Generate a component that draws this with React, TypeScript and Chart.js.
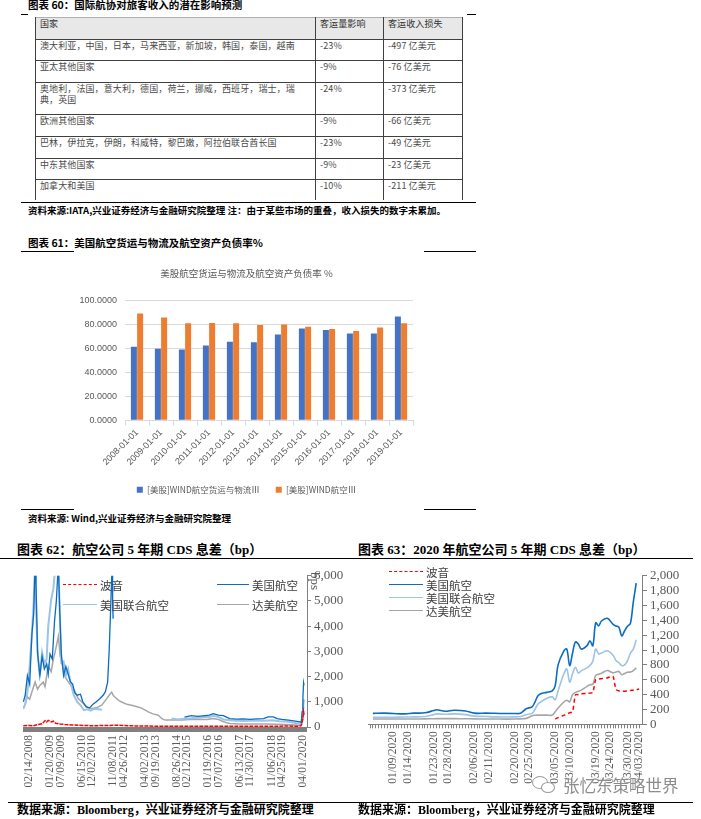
import React, { useEffect, useRef } from 'react';
import { Chart, registerables } from 'chart.js';

Chart.register(...registerables);

// ---------- Table (图表 60) ----------
const tableHeader = ['国家', '客运量影响', '客运收入损失'];
const tableRegions = [
  '澳大利亚，中国，日本，马来西亚，新加坡，韩国，泰国，越南',
  '亚太其他国家',
  '奥地利，法国，意大利，德国，荷兰，挪威，西班牙，瑞士，瑞典，英国',
  '欧洲其他国家',
  '巴林，伊拉克，伊朗，科威特，黎巴嫩，阿拉伯联合酋长国',
  '中东其他国家',
  '加拿大和美国',
];
const tableVolume = ['-23%', '-9%', '-24%', '-9%', '-23%', '-9%', '-10%'];
const tableRevenue = ['-497 亿美元', '-76 亿美元', '-373 亿美元', '-66 亿美元', '-49 亿美元', '-23 亿美元', '-211 亿美元'];

// ---------- Bar chart (图表 61) ----------
const debtTitle = '美股航空货运与物流及航空资产负债率 %';
const debtYears = ['2008-01-01', '2009-01-01', '2010-01-01', '2011-01-01', '2012-01-01', '2013-01-01', '2014-01-01', '2015-01-01', '2016-01-01', '2017-01-01', '2018-01-01', '2019-01-01'];
const debtLogisticsName = '[美股]WIND航空货运与物流Ⅲ';
const debtAirlineName = '[美股]WIND航空Ⅲ';
const debtLogistics = [61.7, 59.9, 59.3, 62.7, 65.7, 65.4, 71.9, 76.9, 75.6, 72.8, 72.8, 87.0];
const debtAirline = [89.5, 86.1, 81.2, 81.5, 81.2, 79.9, 80.2, 78.4, 76.5, 74.7, 77.8, 81.2];

// ---------- Long CDS chart (图表 62), x = decimal year ----------
const cdsSeriesNames = ['波音', '美国航空', '美国联合航空', '达美航空'];
const longTickYears = [2008.12, 2009.05, 2009.52, 2010.45, 2010.92, 2011.85, 2012.32, 2013.25, 2013.72, 2014.65, 2015.12, 2016.05, 2016.51, 2017.45, 2017.91, 2018.85, 2019.31, 2020.25];
const longTickLabels = ['02/14/2008', '01/20/2009', '07/09/2009', '06/15/2010', '12/02/2010', '11/08/2011', '04/26/2012', '04/02/2013', '09/19/2013', '08/26/2014', '02/12/2015', '01/19/2016', '07/07/2016', '06/13/2017', '11/30/2017', '11/06/2018', '04/25/2019', '04/01/2020'];

const boeingLongYears = [2007.87, 2008.1, 2008.3, 2008.5, 2008.7, 2008.83, 2008.9, 2008.97, 2009.1, 2009.2, 2009.3, 2009.5, 2009.7, 2010.0, 2010.5, 2011.0, 2011.5, 2012.0, 2012.5, 2013.0, 2014.0, 2015.0, 2016.0, 2017.0, 2018.0, 2019.0, 2019.5, 2020.0, 2020.15, 2020.2, 2020.24, 2020.27, 2020.29];
const boeingLongValues = [50, 60, 50, 90, 130, 250, 200, 260, 200, 230, 150, 120, 100, 80, 60, 50, 60, 70, 50, 40, 30, 30, 30, 25, 25, 30, 40, 30, 50, 150, 400, 600, 480];

const aalLongYears = [2007.87, 2007.95, 2008.05, 2008.15, 2008.25, 2008.33, 2008.39, 2008.43, 2008.5, 2008.6, 2008.7, 2008.8, 2008.9, 2008.97, 2009.05, 2009.15, 2009.25, 2009.33, 2009.42, 2009.48, 2009.55, 2009.65, 2009.75, 2009.85, 2009.95, 2010.05, 2010.15, 2010.25, 2010.4, 2010.5, 2010.65, 2010.8, 2010.95, 2011.1, 2011.25, 2011.4, 2011.5, 2011.6, 2011.67, 2011.72, 2011.77, 2011.8, 2011.82, 2011.84, 2011.9,
  2015.0, 2015.3, 2015.6, 2015.9, 2016.1, 2016.27, 2016.5, 2016.72, 2017.0, 2017.3, 2017.6, 2017.9, 2018.2, 2018.5, 2018.7, 2018.93, 2019.1, 2019.3, 2019.6, 2019.9, 2020.11, 2020.17, 2020.2, 2020.24, 2020.27, 2020.29];
const aalLongValues = [1000, 1250, 2040, 1700, 3700, 4500, 6500, 5700, 2950, 2040, 2800, 2300, 2500, 2100, 2900, 2700, 4200, 5000, 6500, 4600, 2900, 2040, 2400, 2100, 1800, 1700, 1350, 1260, 1300, 1000, 800, 760, 900, 1000, 1124, 1260, 1400, 1777, 3080, 4350, 5700, 6400, 5200, 4300, null,
  393, 450, 420, 450, 470, 530, 470, 450, 330, 310, 320, 300, 320, 330, 400, 400, 330, 300, 270, 230, 200, 180, 600, 1200, 1750, 1650];

const ualLongYears = [2007.87, 2007.95, 2008.05, 2008.15, 2008.25, 2008.33, 2008.39, 2008.45, 2008.5, 2008.6, 2008.7, 2008.8, 2008.9, 2008.97, 2009.1, 2009.2, 2009.3, 2009.4, 2009.45, 2009.55, 2009.65, 2009.75, 2009.85, 2009.95, 2010.1, 2010.25, 2010.4, 2010.55, 2010.7, 2010.85, 2011.0, 2011.2, 2011.35, 2011.4,
  2014.43, 2014.7, 2015.0, 2015.3, 2015.6, 2015.9, 2016.1, 2016.27, 2016.5, 2016.72, 2017.0, 2017.3, 2017.6, 2017.9, 2018.2, 2018.5, 2018.9, 2019.2, 2019.5, 2019.9, 2020.11, 2020.17, 2020.2, 2020.24, 2020.27, 2020.29];
const ualLongValues = [732, 900, 1385, 2430, 3740, 5000, 6500, 4270, 2950, 2040, 2950, 2500, 2700, 3990, 5040, 5500, 6500, 6500, 5500, 2560, 2600, 2040, 2300, 1800, 1260, 1000, 863, 667, 700, 650, 720, 700, 680, null,
  340, 300, 330, 350, 380, 400, 400, 444, 400, 300, 270, 250, 240, 250, 260, 250, 270, 230, 220, 160, 130, 120, 350, 700, 1000, 1100];

const dalLongYears = [2007.87, 2007.95, 2008.05, 2008.15, 2008.25, 2008.39, 2008.5, 2008.6, 2008.75, 2008.83, 2008.97, 2009.1, 2009.2, 2009.27, 2009.35, 2009.42, 2009.5, 2009.57, 2009.71, 2009.85, 2010.01, 2010.15, 2010.3, 2010.45, 2010.6, 2010.75, 2010.89, 2011.1, 2011.34, 2011.56, 2011.7, 2011.78, 2011.85, 2011.93, 2012.1, 2012.22, 2012.45, 2012.66, 2012.9, 2013.1, 2013.4, 2013.6, 2013.84, 2014.0, 2014.14, 2014.5, 2014.88, 2015.24, 2015.6, 2016.0, 2016.27, 2016.5, 2016.72, 2017.0, 2017.4, 2017.77, 2018.2, 2018.6, 2019.0, 2019.5, 2019.9, 2020.11, 2020.17, 2020.2, 2020.24, 2020.27, 2020.29];
const dalLongValues = [730, 900, 1200, 1100, 1400, 1780, 1500, 1650, 1780, 1600, 2430, 2200, 2700, 2950, 3300, 3600, 2800, 2600, 2000, 1800, 1600, 1400, 1124, 1000, 863, 760, 732, 760, 863, 1124, 1300, 1385, 1250, 1180, 1050, 993, 900, 863, 800, 750, 600, 520, 470, 330, 274, 274, 280, 300, 310, 300, 340, 300, 209, 140, 120, 118, 115, 120, 110, 100, 80, 70, 80, 300, 600, 780, 760];

// ---------- 2020 CDS chart (图表 63), x = day of year 2020 ----------
const shortTickDays = [9, 14, 23, 28, 37, 42, 51, 56, 65, 70, 79, 84, 90, 94];
const shortTickLabels = ['01/09/2020', '01/14/2020', '01/23/2020', '01/28/2020', '02/06/2020', '02/11/2020', '02/20/2020', '02/25/2020', '03/05/2020', '03/10/2020', '03/19/2020', '03/24/2020', '03/30/2020', '04/03/2020'];
const shortDays = [2, 6, 9, 13, 16, 20, 23, 24, 27, 30, 34, 37, 41, 44, 48, 51, 53, 55, 57, 58, 59, 60, 62, 64, 65, 66, 68, 69, 70, 71, 72, 73, 74, 76, 77, 78, 79, 80, 81, 83, 85, 86, 87, 88, 89, 90, 91, 92, 93];
const aalShort = [147, 150, 145, 140, 150, 155, 185, 196, 175, 190, 180, 150, 150, 148, 145, 145, 150, 210, 235, 300, 380, 410, 430, 450, 520, 800, 990, 1015, 790, 960, 1110, 1080, 1013, 1060, 1124, 1058, 1369, 1324, 1391, 1427, 1347, 1324, 1310, 1191, 1260, 1320, 1360, 1650, 1900];
const ualShort = [93, 95, 95, 98, 100, 105, 130, 140, 135, 140, 130, 110, 105, 100, 98, 100, 105, 130, 147, 200, 270, 300, 347, 369, 330, 450, 680, 747, 569, 680, 769, 690, 720, 760, 791, 850, 1013, 950, 960, 991, 930, 858, 830, 791, 800, 858, 960, 1013, 1140];
const dalShort = [71, 71, 72, 72, 72, 73, 75, 76, 76, 76, 75, 73, 72, 72, 70, 71, 73, 80, 115, 122, 124, 124, 124, 124, 169, 220, 300, 324, 302, 400, 430, 444, 460, 510, 533, 540, 658, 675, 689, 724, 693, 705, 711, 667, 685, 700, 705, 724, 760];
const boeingShortDays = [65, 66, 68, 69, 70, 71, 72, 73, 74, 76, 77, 78, 79, 80, 81, 83, 84, 85, 86, 87, 88, 89, 90, 91, 92, 93, 94];
const boeingShort = [71, 90, 120, 140, 155, 170, 395, 400, 410, 415, 420, 430, 600, 610, 615, 625, 640, 645, 470, 450, 445, 445, 450, 455, 460, 465, 475];

const COLOR_BOEING = '#FF0000';
const COLOR_AAL = '#0A6CC2';
const COLOR_UAL = '#9DC3E6';
const COLOR_DAL = '#A6A6A6';

const SERIF = '"Liberation Serif", "Noto Sans CJK SC", serif';
const CJK = '"Noto Sans CJK SC", sans-serif';
const SANS = '"Liberation Sans", "Noto Sans CJK SC", sans-serif';

function ChartBox({ config, left, top, width, height }: any) {
  const ref = useRef<HTMLCanvasElement | null>(null);
  useEffect(() => {
    if (!ref.current) return;
    const chart = new Chart(ref.current, config);
    return () => chart.destroy();
  }, []);
  return (
    <div style={{ position: 'absolute', left, top, width, height }}>
      <canvas ref={ref} />
    </div>
  );
}

const pts = (xs: number[], ys: (number | null)[]) => xs.map((x, i) => ({ x, y: ys[i] }));

function barConfig(): any {
  return {
    type: 'bar',
    data: {
      labels: debtYears,
      datasets: [
        { label: debtLogisticsName, data: debtLogistics, backgroundColor: '#4472C4', categoryPercentage: 0.52, barPercentage: 0.96 },
        { label: debtAirlineName, data: debtAirline, backgroundColor: '#ED7D31', categoryPercentage: 0.52, barPercentage: 0.96 },
      ],
    },
    options: {
      animation: false,
      responsive: true,
      maintainAspectRatio: false,
      devicePixelRatio: 1,
      events: [],
      layout: { padding: { left: 0, right: 3, top: 0, bottom: 0 } },
      plugins: {
        tooltip: { enabled: false },
        title: {
          display: true,
          text: debtTitle,
          color: '#595959',
          font: { size: 9.5, family: CJK, weight: 'normal' },
          padding: { top: 9.5, bottom: 22 },
        },
        legend: {
          position: 'bottom',
          labels: { boxWidth: 6, boxHeight: 6, color: '#595959', font: { size: 8.5, family: CJK }, padding: 16 },
        },
      },
      scales: {
        x: {
          grid: { display: true, drawOnChartArea: false, drawTicks: true, tickLength: 5, color: '#d9d9d9', offset: true },
          border: { color: '#d9d9d9' },
          ticks: { minRotation: 45, maxRotation: 45, color: '#595959', font: { size: 9, family: SANS }, padding: 2 },
        },
        y: {
          min: 0,
          max: 100,
          afterFit: (s: any) => { s.width = 45; },
          ticks: { stepSize: 20, color: '#595959', font: { size: 9, family: SANS }, padding: 8, callback: (v: any) => Number(v).toFixed(4) },
          grid: { color: '#d9d9d9', drawTicks: false },
          border: { display: false },
        },
      },
    },
  };
}

function longConfig(): any {
  const labelMap = new Map<number, string>();
  longTickYears.forEach((y, i) => labelMap.set(y, longTickLabels[i]));
  return {
    type: 'line',
    data: {
      datasets: [
        { label: cdsSeriesNames[0], data: pts(boeingLongYears, boeingLongValues), borderColor: COLOR_BOEING, borderWidth: 1.5, borderDash: [4, 1], pointRadius: 0, tension: 0 },
        { label: cdsSeriesNames[1], data: pts(aalLongYears, aalLongValues), borderColor: COLOR_AAL, borderWidth: 1.3, pointRadius: 0, tension: 0, spanGaps: false },
        { label: cdsSeriesNames[2], data: pts(ualLongYears, ualLongValues), borderColor: COLOR_UAL, borderWidth: 2, pointRadius: 0, tension: 0, spanGaps: false },
        { label: cdsSeriesNames[3], data: pts(dalLongYears, dalLongValues), borderColor: COLOR_DAL, borderWidth: 1.5, pointRadius: 0, tension: 0 },
      ],
    },
    options: {
      animation: false,
      responsive: true,
      maintainAspectRatio: false,
      devicePixelRatio: 1,
      events: [],
      layout: { padding: { left: 15, right: 0, top: 9, bottom: 0 } },
      plugins: { legend: { display: false }, tooltip: { enabled: false } },
      scales: {
        x: {
          type: 'linear',
          min: 2007.855,
          max: 2020.42,
          afterFit: (s: any) => { s.height = 70; },
          afterBuildTicks: (s: any) => {
            const t: any[] = [];
            for (let v = 2007.86; v < 2020.4; v += 0.025) t.push({ value: v });
            longTickYears.forEach((y) => t.push({ value: y }));
            t.sort((a, b) => a.value - b.value);
            s.ticks = t;
          },
          ticks: {
            autoSkip: false,
            minRotation: 90,
            maxRotation: 90,
            padding: 3,
            color: '#595959',
            font: { size: 11.5, family: SERIF },
            callback: (v: any) => labelMap.get(v) ?? '',
          },
          grid: { drawOnChartArea: false, drawTicks: true, tickLength: 5, color: '#808080' },
          border: { color: '#808080' },
        },
        y: {
          position: 'right',
          min: 0,
          max: 6000,
          afterFit: (s: any) => { s.width = 46; },
          ticks: { autoSkip: false, stepSize: 1000, color: '#595959', font: { size: 13, family: SERIF }, padding: 3, callback: (v: any) => Number(v).toLocaleString('en-US') },
          grid: { drawOnChartArea: false, drawTicks: true, tickLength: 4, color: '#808080' },
          border: { color: '#808080' },
        },
      },
    },
  };
}

function shortConfig(): any {
  const labelMap = new Map<number, string>();
  shortTickDays.forEach((d, i) => labelMap.set(d, shortTickLabels[i]));
  return {
    type: 'line',
    data: {
      datasets: [
        { label: cdsSeriesNames[0], data: pts(boeingShortDays, boeingShort), borderColor: COLOR_BOEING, borderWidth: 1.5, borderDash: [4, 3], pointRadius: 0, tension: 0.25 },
        { label: cdsSeriesNames[1], data: pts(shortDays, aalShort), borderColor: COLOR_AAL, borderWidth: 1.6, pointRadius: 0, tension: 0.35 },
        { label: cdsSeriesNames[2], data: pts(shortDays, ualShort), borderColor: COLOR_UAL, borderWidth: 1.6, pointRadius: 0, tension: 0.35 },
        { label: cdsSeriesNames[3], data: pts(shortDays, dalShort), borderColor: COLOR_DAL, borderWidth: 1.6, pointRadius: 0, tension: 0.35 },
      ],
    },
    options: {
      animation: false,
      responsive: true,
      maintainAspectRatio: false,
      devicePixelRatio: 1,
      events: [],
      layout: { padding: { left: 13, right: 0, top: 9, bottom: 0 } },
      plugins: { legend: { display: false }, tooltip: { enabled: false } },
      scales: {
        x: {
          type: 'linear',
          min: 0.3,
          max: 95,
          afterFit: (s: any) => { s.height = 72.7; },
          afterBuildTicks: (s: any) => {
            const t: any[] = [];
            for (let d = 1; d <= 94; d++) t.push({ value: d });
            s.ticks = t;
          },
          ticks: {
            autoSkip: false,
            minRotation: 90,
            maxRotation: 90,
            padding: 3,
            color: '#595959',
            font: { size: 11.5, family: SERIF },
            callback: (v: any) => labelMap.get(v) ?? '',
          },
          grid: { drawOnChartArea: false, drawTicks: true, tickLength: 4, color: '#808080' },
          border: { color: '#808080' },
        },
        y: {
          position: 'right',
          min: 0,
          max: 2000,
          afterFit: (s: any) => { s.width = 59; },
          ticks: { autoSkip: false, stepSize: 200, color: '#595959', font: { size: 13, family: SERIF }, padding: 3, callback: (v: any) => Number(v).toLocaleString('en-US') },
          grid: { drawOnChartArea: false, drawTicks: true, tickLength: 5, color: '#808080' },
          border: { color: '#808080' },
        },
      },
    },
  };
}

const HLine = ({ x1, x2, y, w = 1, color = '#000' }: any) => (
  <div style={{ position: 'absolute', left: x1, top: y, width: x2 - x1, height: w, background: color }} />
);
const VLine = ({ x, y1, y2, color = '#404040' }: any) => (
  <div style={{ position: 'absolute', left: x, top: y1, width: 1, height: y2 - y1, background: color }} />
);
const Text = ({ left, top, size, children, family = CJK, weight = 'normal', color = '#000', lh, style }: any) => (
  <div style={{ position: 'absolute', left, top, fontSize: size, fontFamily: family, fontWeight: weight, color, lineHeight: (lh ?? Math.round(size * 1.25)) + 'px', whiteSpace: 'nowrap', ...style }}>{children}</div>
);
const LegendItem = ({ x1, x2, y, color, dashed, text, tx }: any) => (
  <>
    <div style={{ position: 'absolute', left: x1, top: y - 0.75, width: x2 - x1, height: 0, borderTop: `1.5px ${dashed ? 'dashed' : 'solid'} ${color}` }} />
    <Text left={tx} top={y - 8} size={11.5} lh={16} color="#404040">{text}</Text>
  </>
);

function Table() {
  const rowTops = [17, 39, 60, 82, 114, 136, 158, 179, 200];
  const colLefts = [35, 315, 383, 462];
  const cells: any[] = [];
  const rows = [tableHeader, ...tableRegions.map((r, i) => [r, tableVolume[i], tableRevenue[i]])];
  rows.forEach((row, ri) => {
    row.forEach((txt, ci) => {
      cells.push(
        <div key={ri + '-' + ci} style={{ position: 'absolute', left: colLefts[ci] + 5, top: rowTops[ri] + 1, width: ci === 0 ? 258 : colLefts[ci + 1] - colLefts[ci] - 8, fontSize: 9, letterSpacing: '0.1px', lineHeight: '11px', fontFamily: CJK, color: ri === 0 ? '#333' : '#4a4a4a', whiteSpace: 'normal', wordBreak: 'break-all' }}>{txt}</div>
      );
    });
  });
  return (
    <>
      <div style={{ position: 'absolute', left: 35, top: 17, width: 427, height: 22, background: '#e8e8e8' }} />
      <HLine x1={35} x2={463} y={17} color="#b0b0b0" />
      {rowTops.slice(1, 8).map((y) => <HLine key={y} x1={35} x2={463} y={y} color="#404040" />)}
      {colLefts.map((x) => <VLine key={x} x={x} y1={17} y2={200} />)}
      {cells}
    </>
  );
}

export default function App() {
  return (
    <div style={{ position: 'absolute', left: 0, top: 0, width: 701, height: 819, background: '#fff', overflow: 'hidden' }}>
      {/* 图表 60 */}
      <Text left={28} top={-2} size={10.5} lh={13} weight="bold">图表 60：国际航协对旅客收入的潜在影响预测</Text>
      <HLine x1={21} x2={28} y={13.5} w={1.3} />
      <HLine x1={467} x2={476} y={13.5} w={1.3} />
      <Table />
      <HLine x1={21} x2={476} y={202} w={1.2} />
      <Text left={28} top={204} size={9.5} lh={12} weight="bold">资料来源:IATA,兴业证券经济与金融研究院整理 注：由于某些市场的重叠，收入损失的数字未累加。</Text>

      {/* 图表 61 */}
      <Text left={28} top={235.5} size={10.5} lh={13} weight="bold">图表 61：美国航空货运与物流及航空资产负债率%</Text>
      <HLine x1={21} x2={74} y={251} w={1.2} />
      <HLine x1={424} x2={476} y={251} w={1.2} />
      <ChartBox config={barConfig()} left={80} top={258} width={336} height={246} />
      <HLine x1={21} x2={74} y={509} w={1.2} />
      <HLine x1={424} x2={476} y={509} w={1.2} />
      <Text left={28} top={512} size={9.5} lh={12} weight="bold">资料来源: Wind,兴业证券经济与金融研究院整理</Text>

      {/* 图表 62 */}
      <Text left={17} top={542} size={13} lh={16} weight="bold" family={SERIF}>图表 62：航空公司 5 年期 CDS 息差（bp）</Text>
      <HLine x1={0} x2={350} y={558} w={1.2} />
      <ChartBox config={longConfig()} left={8} top={565} width={345} height={232} />
      <LegendItem x1={63} x2={97} y={585} color={COLOR_BOEING} dashed text={cdsSeriesNames[0]} tx={100} />
      <LegendItem x1={63} x2={97} y={605} color={COLOR_UAL} text={cdsSeriesNames[2]} tx={100} />
      <LegendItem x1={217} x2={249} y={585} color={COLOR_AAL} text={cdsSeriesNames[1]} tx={252} />
      <LegendItem x1={217} x2={249} y={605} color={COLOR_DAL} text={cdsSeriesNames[3]} tx={252} />
      <Text left={309} top={572} size={13} lh={14} family={SERIF} color="#595959" style={{ transform: 'rotate(90deg)', transformOrigin: 'left top', left: 322 }}>bps</Text>
      <HLine x1={8} x2={350} y={802} w={1.2} />
      <Text left={17} top={802} size={12} lh={16} weight="bold" family={SERIF}>数据来源：Bloomberg，兴业证券经济与金融研究院整理</Text>

      {/* 图表 63 */}
      <Text left={358} top={542} size={13} lh={16} weight="bold" family={SERIF}>图表 63：2020 年航空公司 5 年期 CDS 息差（bp）</Text>
      <HLine x1={350} x2={693} y={558} w={1.2} />
      <ChartBox config={shortConfig()} left={355} top={565} width={346} height={232} />
      <LegendItem x1={389} x2={423} y={572} color={COLOR_BOEING} dashed text={cdsSeriesNames[0]} tx={426} />
      <LegendItem x1={389} x2={423} y={585} color={COLOR_AAL} text={cdsSeriesNames[1]} tx={426} />
      <LegendItem x1={389} x2={423} y={598} color={COLOR_UAL} text={cdsSeriesNames[2]} tx={426} />
      <LegendItem x1={389} x2={423} y={611} color={COLOR_DAL} text={cdsSeriesNames[3]} tx={426} />
      <HLine x1={350} x2={693} y={802} w={1.2} />
      <Text left={358} top={802} size={12} lh={16} weight="bold" family={SERIF}>数据来源：Bloomberg，兴业证券经济与金融研究院整理</Text>

      {/* watermark */}
      <div style={{ position: 'absolute', left: 532, top: 776, width: 14, height: 11, border: '1.3px solid #9a9a9a', borderRadius: '50%' }} />
      <div style={{ position: 'absolute', left: 541, top: 782, width: 12, height: 9, border: '1.3px solid #9a9a9a', borderRadius: '50%', background: '#fff' }} />
      <Text left={563} top={775} size={16.5} lh={20} color="#8c8c8c" style={{ textShadow: '0 0 2px #fff, 0 0 2px #fff' }}>张忆东策略世界</Text>
    </div>
  );
}
